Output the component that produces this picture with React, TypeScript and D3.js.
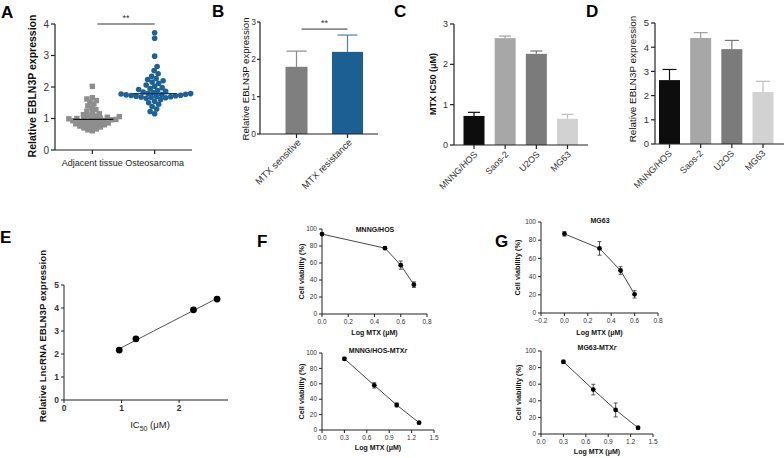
import React from 'react';
import * as d3 from 'd3';

const FONT = '"Liberation Sans", Arial, Helvetica, sans-serif';

// ---------- Panel A ----------
const groupsA = ['Adjacent tissue', 'Osteosarcoma'];
const adjacentValues = [2.02, 1.66, 1.62, 1.57, 1.52, 1.46, 1.4, 1.34, 1.28, 1.23, 1.19, 1.15, 1.12, 1.1, 1.08, 1.06, 1.04, 1.02, 1.01, 1.0, 0.99, 0.98, 0.97, 0.96, 0.95, 0.94, 0.93, 0.92, 0.9, 0.89, 0.87, 0.86, 0.84, 0.83, 0.81, 0.8, 0.78, 0.76, 0.75, 0.73, 0.7, 0.67, 0.64, 0.61];
const osteosarcomaValues = [3.72, 3.55, 2.98, 2.65, 2.52, 2.42, 2.34, 2.27, 2.24, 2.2, 2.16, 2.12, 2.06, 2.02, 1.98, 1.95, 1.92, 1.89, 1.86, 1.84, 1.82, 1.8, 1.79, 1.78, 1.77, 1.76, 1.75, 1.74, 1.73, 1.72, 1.71, 1.7, 1.69, 1.68, 1.67, 1.66, 1.64, 1.6, 1.55, 1.5, 1.45, 1.38, 1.3, 1.22, 1.15];
const centerLinesA = [0.97, 1.79];
const ticksA = [0, 1, 2, 3, 4];
const sigA = 4;

// ---------- Panel B ----------
const groupsB = ['MTX sensitive', 'MTX resistance'];
const meansB = [1.8, 2.2];
const errB = [0.42, 0.45];
const ticksB = [0, 1, 2, 3];
const sigB = 2.81;

// ---------- Panel C ----------
const cellLines = ['MNNG/HOS', 'Saos-2', 'U2OS', 'MG63'];
const ic50Values = [0.72, 2.65, 2.26, 0.65];
const ic50Err = [0.09, 0.05, 0.07, 0.11];
const ticksC = [0, 1, 2, 3];

// ---------- Panel D ----------
const ebln3pValues = [2.64, 4.38, 3.92, 2.15];
const ebln3pErr = [0.44, 0.22, 0.36, 0.44];
const ticksD = [0, 1, 2, 3, 4, 5];

// ---------- Panel E ----------
const ic50E = [0.96, 1.25, 2.25, 2.66];
const exprE = [2.17, 2.66, 3.92, 4.39];
const ticksEx = [0, 1, 2];
const ticksEy = [0, 1, 2, 3, 4, 5];

// ---------- Panel F ----------
const logMtxF1 = [0, 0.48, 0.6, 0.7];
const viabF1 = [94, 77.5, 57.5, 34.5];
const errF1 = [1, 1.5, 4.8, 3.3];
const ticksF1x = [0, 0.2, 0.4, 0.6, 0.8];
const logMtxF2 = [0.3, 0.7, 1.0, 1.3];
const viabF2 = [92.5, 58, 32.5, 9.5];
const errF2 = [2, 3.5, 2.5, 1.5];
const ticksF2x = [0, 0.3, 0.6, 0.9, 1.2, 1.5];

// ---------- Panel G ----------
const logMtxG1 = [0, 0.3, 0.48, 0.6];
const viabG1 = [87, 71, 46.7, 20.5];
const errG1 = [2.5, 7.5, 4.2, 4];
const ticksG1x = [-0.2, 0, 0.2, 0.4, 0.6, 0.8];
const logMtxG2 = [0.3, 0.7, 1.0, 1.3];
const viabG2 = [87, 53.5, 29, 7.5];
const errG2 = [2, 6.4, 8.4, 2];
const ticksG2x = [0, 0.3, 0.6, 0.9, 1.2, 1.5];
const ticksViab = [0, 20, 40, 60, 80, 100];

const barColors = ['#0d0d0d', '#a7a7a7', '#7b7b7b', '#d2d2d2'];

function beeswarm(values: number[], y: (v: number) => number, cx: number, d: number) {
  const sorted = [...values].sort((a, b) => a - b);
  const placed: [number, number][] = [];
  for (const v of sorted) {
    const py = y(v);
    let px = cx;
    for (let k = 0; k < 600; k++) {
      const off = (k % 2 === 0 ? 1 : -1) * Math.ceil(k / 2) * 0.5;
      const cand = cx + off;
      let ok = true;
      for (const [qx, qy] of placed) {
        const dx = qx - cand, dy = qy - py;
        if (dx * dx + dy * dy < d * d) { ok = false; break; }
      }
      if (ok) { px = cand; break; }
    }
    placed.push([px, py]);
  }
  return placed;
}

function YAxis({ x, scale, ticks, fs, fmt = (t: number) => String(t), len = 4, gap = 2, color = '#222', bold = false, sw = 1.2, lc = '#333' }: any) {
  const [r0, r1] = scale.range();
  return (
    <g>
      <line x1={x} x2={x} y1={r0} y2={r1} stroke={color} strokeWidth={sw} />
      {ticks.map((t: number) => (
        <g key={t}>
          <line x1={x - len} x2={x} y1={scale(t)} y2={scale(t)} stroke={color} strokeWidth={sw} />
          <text x={x - len - gap} y={scale(t)} dy="0.35em" textAnchor="end" fontSize={fs} fill={lc} fontWeight={bold ? 'bold' : 'normal'}>{fmt(t)}</text>
        </g>
      ))}
    </g>
  );
}

function XAxisLinear({ y, scale, ticks, fs, fmt = (t: number) => String(t), len = 3, color = '#222', bold = false, sw = 1, lc = '#333' }: any) {
  const [r0, r1] = scale.range();
  return (
    <g>
      <line x1={r0} x2={r1} y1={y} y2={y} stroke={color} strokeWidth={sw} />
      {ticks.map((t: number) => (
        <g key={t}>
          <line x1={scale(t)} x2={scale(t)} y1={y} y2={y + len} stroke={color} strokeWidth={sw} />
          <text x={scale(t)} y={y + len + 2} dy="0.75em" textAnchor="middle" fontSize={fs} fill={lc} fontWeight={bold ? 'bold' : 'normal'}>{fmt(t)}</text>
        </g>
      ))}
    </g>
  );
}

function VTitle({ x, y, text, fs, bold = false }: any) {
  return (
    <text transform={`translate(${x},${y}) rotate(-90)`} textAnchor="middle" fontSize={fs} fontWeight={bold ? 'bold' : 'normal'} fill="#111">{text}</text>
  );
}

function BarPanel({ names, values, errs, yScale, xScale, barW, capHalf, colors, errColors, axisX, axisEnd, ticks, fs, labelFs, labelDx, labelDy, tickLen = 4, tickGap = 2 }: any) {
  const y0 = yScale(0);
  return (
    <g>
      {names.map((n: string, i: number) => {
        const cx = xScale(n);
        const top = yScale(values[i]);
        const et = yScale(values[i] + errs[i]);
        return (
          <g key={n}>
            <line x1={cx} x2={cx} y1={top} y2={et} stroke={errColors[i]} strokeWidth={1.2} />
            <line x1={cx - capHalf} x2={cx + capHalf} y1={et} y2={et} stroke={errColors[i]} strokeWidth={1.2} />
            <rect x={cx - barW[i] / 2} y={top} width={barW[i]} height={y0 - top} fill={colors[i]} />
          </g>
        );
      })}
      <YAxis x={axisX} scale={yScale} ticks={ticks} fs={fs} len={tickLen} gap={tickGap} />
      <line x1={axisX} x2={axisEnd} y1={y0} y2={y0} stroke="#222" strokeWidth={1.2} />
      {names.map((n: string) => {
        const cx = xScale(n);
        return (
          <g key={'t' + n}>
            <line x1={cx} x2={cx} y1={y0} y2={y0 + 4} stroke="#222" strokeWidth={1.2} />
            <text transform={`translate(${cx + labelDx},${y0 + labelDy}) rotate(-45)`} textAnchor="end" fontSize={labelFs} fill="#333">{n}</text>
          </g>
        );
      })}
    </g>
  );
}

function CurvePanel({ xs, ys, errs, xScale, yScale, xTicks, yTicks, title, titleNode, titleX, titleY, xTitleY, yTitleX }: any) {
  const pts = xs.map((x: number, i: number) => [xScale(x), yScale(ys[i])] as [number, number]);
  const line = d3.line()(pts) || '';
  const ax = xScale.range()[0];
  const ay = yScale.range()[0];
  const [ry0, ry1] = yScale.range();
  const [rx0, rx1] = xScale.range();
  return (
    <g>
      <YAxis x={ax} scale={yScale} ticks={yTicks} fs={6.5} len={3} sw={1} fmt={(t: number) => String(t)} />
      <XAxisLinear y={ay} scale={xScale} ticks={xTicks} fs={6.5} len={3} sw={1} fmt={d3.format('.1f')} />
      <path d={line} fill="none" stroke="#333" strokeWidth={0.9} />
      {xs.map((x: number, i: number) => {
        const cx = xScale(x);
        const a = yScale(ys[i] + errs[i]);
        const b = yScale(ys[i] - errs[i]);
        return (
          <g key={i}>
            <line x1={cx} x2={cx} y1={a} y2={b} stroke="#444" strokeWidth={0.9} />
            <line x1={cx - 2} x2={cx + 2} y1={a} y2={a} stroke="#444" strokeWidth={0.9} />
            <line x1={cx - 2} x2={cx + 2} y1={b} y2={b} stroke="#444" strokeWidth={0.9} />
            <circle cx={cx} cy={yScale(ys[i])} r={2.4} fill="#000" />
          </g>
        );
      })}
      <text x={titleX} y={titleY} textAnchor="middle" fontSize={7} fontWeight="bold" fill="#111">{titleNode || title}</text>
      <text x={(rx0 + rx1) / 2} y={xTitleY} textAnchor="middle" fontSize={7} fontWeight="bold" fill="#111">Log MTX (μM)</text>
      <VTitle x={yTitleX} y={(ry0 + ry1) / 2} text="Cell viability (%)" fs={7.3} bold />
    </g>
  );
}

export default function App() {
  // Panel A
  const yA = d3.scaleLinear().domain([0, 4]).range([150, 24]);
  const xA = d3.scalePoint<string>().domain(groupsA).range([55, 192]).padding(0.6);
  const cxA0 = xA(groupsA[0])!;
  const cxA1 = xA(groupsA[1])!;
  const swarmAdj = beeswarm(adjacentValues, yA, cxA0, 4.2);
  const swarmOst = beeswarm(osteosarcomaValues, yA, cxA1, 5.0);

  // Panel B
  const yB = d3.scaleLinear().domain([0, 3]).range([134, 22]);
  const xB = d3.scalePoint<string>().domain(groupsB).range([296.5, 347.5]);

  // Panel C
  const yC = d3.scaleLinear().domain([0, 3]).range([145, 24]);
  const xC = d3.scalePoint<string>().domain(cellLines).range([474, 567.5]);

  // Panel D
  const yD = d3.scaleLinear().domain([0, 5]).range([144, 23]);
  const xD = d3.scalePoint<string>().domain(cellLines).range([669.5, 763]);

  // Panel E
  const xE = d3.scaleLinear().domain([0, 2.85]).range([64, 228]);
  const yE = d3.scaleLinear().domain([0, 5]).range([400, 285]);
  const mx = d3.mean(ic50E)!, my = d3.mean(exprE)!;
  const slope = d3.sum(ic50E.map((x, i) => (x - mx) * (exprE[i] - my))) / d3.sum(ic50E.map((x) => (x - mx) ** 2));
  const icpt = my - slope * mx;
  const x0E = d3.min(ic50E)!, x1E = d3.max(ic50E)!;

  // Panels F, G
  const xF1 = d3.scaleLinear().domain([0, 0.8]).range([322, 427]);
  const yF1 = d3.scaleLinear().domain([0, 100]).range([314, 229]);
  const xF2 = d3.scaleLinear().domain([0, 1.5]).range([322, 434]);
  const yF2 = d3.scaleLinear().domain([0, 100]).range([430, 353]);
  const xG1 = d3.scaleLinear().domain([-0.2, 0.8]).range([541, 658]);
  const yG1 = d3.scaleLinear().domain([0, 100]).range([313, 222]);
  const xG2 = d3.scaleLinear().domain([0, 1.5]).range([541, 653]);
  const yG2 = d3.scaleLinear().domain([0, 100]).range([434, 351]);

  const letter = (t: string, x: number, y: number) => (
    <text x={x} y={y} fontSize={17} fontWeight="bold" fill="#000">{t}</text>
  );

  return (
    <svg width={784} height={458} style={{ position: 'absolute', left: 0, top: 0, background: '#fff' }} fontFamily={FONT}>
      <rect width={784} height={458} fill="#fff" />
      {/* Panel letters */}
      {letter('A', 1, 18)}
      {letter('B', 212, 17)}
      {letter('C', 394, 17)}
      {letter('D', 586, 17)}
      {letter('E', 0, 243)}
      {letter('F', 257, 247)}
      {letter('G', 495, 247)}

      {/* ---- Panel A ---- */}
      <g>
        {swarmAdj.map(([x, y], i) => (
          <rect key={'a' + i} x={x - 2.7} y={y - 2.7} width={5.4} height={5.4} fill="#8e8e8e" />
        ))}
        {swarmOst.map(([x, y], i) => (
          <circle key={'o' + i} cx={x} cy={y} r={2.8} fill="#1d6296" />
        ))}
        <line x1={cxA0 - 19} x2={cxA0 + 21} y1={yA(centerLinesA[0])} y2={yA(centerLinesA[0])} stroke="#111" strokeWidth={1.3} />
        <line x1={cxA1 - 22} x2={cxA1 + 22} y1={yA(centerLinesA[1])} y2={yA(centerLinesA[1])} stroke="#0d3a5e" strokeWidth={1.3} />
        <YAxis x={55} scale={yA} ticks={ticksA} fs={10} />
        <line x1={55} x2={192} y1={yA(0)} y2={yA(0)} stroke="#222" strokeWidth={1.2} />
        {groupsA.map((g) => (
          <g key={g}>
            <line x1={xA(g)} x2={xA(g)} y1={yA(0)} y2={yA(0) + 4} stroke="#222" strokeWidth={1.2} />
            <text x={xA(g)} y={yA(0) + 16} textAnchor="middle" fontSize={9} fill="#222">{g}</text>
          </g>
        ))}
        <line x1={cxA0 + 5} x2={cxA1} y1={yA(sigA)} y2={yA(sigA)} stroke="#333" strokeWidth={1} />
        <text x={(cxA0 + 5 + cxA1) / 2} y={yA(sigA) - 3} textAnchor="middle" fontSize={9} fill="#333">**</text>
        <VTitle x={36} y={86} text="Relative EBLN3P expression" fs={10.5} bold />
      </g>

      {/* ---- Panel B ---- */}
      <BarPanel names={groupsB} values={meansB} errs={errB} yScale={yB} xScale={xB} barW={[22, 31]} capHalf={10}
        colors={['#7f7f7f', '#1c5f92']} errColors={['#8a8a8a', '#4d7fae']} axisX={260} axisEnd={378} ticks={ticksB}
        fs={8.5} labelFs={9.5} labelDx={5} labelDy={9} tickLen={3} tickGap={1} />
      <line x1={xB(groupsB[0])! + 5} x2={xB(groupsB[1])!} y1={yB(sigB)} y2={yB(sigB)} stroke="#333" strokeWidth={1} />
      <text x={(xB(groupsB[0])! + 5 + xB(groupsB[1])!) / 2} y={yB(sigB) - 3} textAnchor="middle" fontSize={9} fill="#333">**</text>
      <VTitle x={249} y={79} text="Relative EBLN3P expression" fs={9.6} />

      {/* ---- Panel C ---- */}
      <BarPanel names={cellLines} values={ic50Values} errs={ic50Err} yScale={yC} xScale={xC} barW={[21, 21, 21, 21]} capHalf={6}
        colors={barColors} errColors={['#111', '#a0a0a0', '#777', '#bdbdbd']} axisX={454} axisEnd={588} ticks={ticksC}
        fs={9} labelFs={9} labelDx={4} labelDy={10} />
      <VTitle x={436} y={84} text="MTX IC50 (μM)" fs={9} bold />

      {/* ---- Panel D ---- */}
      <BarPanel names={cellLines} values={ebln3pValues} errs={ebln3pErr} yScale={yD} xScale={xD} barW={[21, 21, 21, 21]} capHalf={7}
        colors={barColors} errColors={['#111', '#a0a0a0', '#777', '#bdbdbd']} axisX={655} axisEnd={784} ticks={ticksD}
        fs={9.5} labelFs={9} labelDx={3} labelDy={10} />
      <VTitle x={636} y={79} text="Relative EBLN3P expression" fs={9.9} />

      {/* ---- Panel E ---- */}
      <g>
        <YAxis x={64} scale={yE} ticks={ticksEy} fs={8.5} len={3} sw={1} bold />
        <XAxisLinear y={400} scale={xE} ticks={ticksEx} fs={8.5} len={3} sw={1} bold />
        <line x1={xE(x0E)} x2={xE(x1E)} y1={yE(icpt + slope * x0E)} y2={yE(icpt + slope * x1E)} stroke="#555" strokeWidth={1} />
        {ic50E.map((x, i) => (
          <circle key={i} cx={xE(x)} cy={yE(exprE[i])} r={3.4} fill="#000" />
        ))}
        <text x={150} y={428} textAnchor="middle" fontSize={9.5} fill="#222">
          IC<tspan dy={2.5} fontSize={7}>50</tspan><tspan dy={-2.5}> (μM)</tspan>
        </text>
        <VTitle x={46} y={336} text="Relative LncRNA EBLN3P expression" fs={9.7} bold />
      </g>

      {/* ---- Panel F ---- */}
      <CurvePanel xs={logMtxF1} ys={viabF1} errs={errF1} xScale={xF1} yScale={yF1} xTicks={ticksF1x} yTicks={ticksViab}
        title="MNNG/HOS" titleX={375} titleY={232} xTitleY={335} yTitleX={304} />
      <CurvePanel xs={logMtxF2} ys={viabF2} errs={errF2} xScale={xF2} yScale={yF2} xTicks={ticksF2x} yTicks={ticksViab}
        titleNode={<>MNNG/HOS-MTX<tspan fontStyle="italic">r</tspan></>} titleX={378} titleY={353} xTitleY={450} yTitleX={304} />

      {/* ---- Panel G ---- */}
      <CurvePanel xs={logMtxG1} ys={viabG1} errs={errG1} xScale={xG1} yScale={yG1} xTicks={ticksG1x} yTicks={ticksViab}
        title="MG63" titleX={600} titleY={223} xTitleY={335} yTitleX={520} />
      <CurvePanel xs={logMtxG2} ys={viabG2} errs={errG2} xScale={xG2} yScale={yG2} xTicks={ticksG2x} yTicks={ticksViab}
        titleNode={<>MG63-MTX<tspan fontStyle="italic">r</tspan></>} titleX={597} titleY={350} xTitleY={454} yTitleX={521} />
    </svg>
  );
}
